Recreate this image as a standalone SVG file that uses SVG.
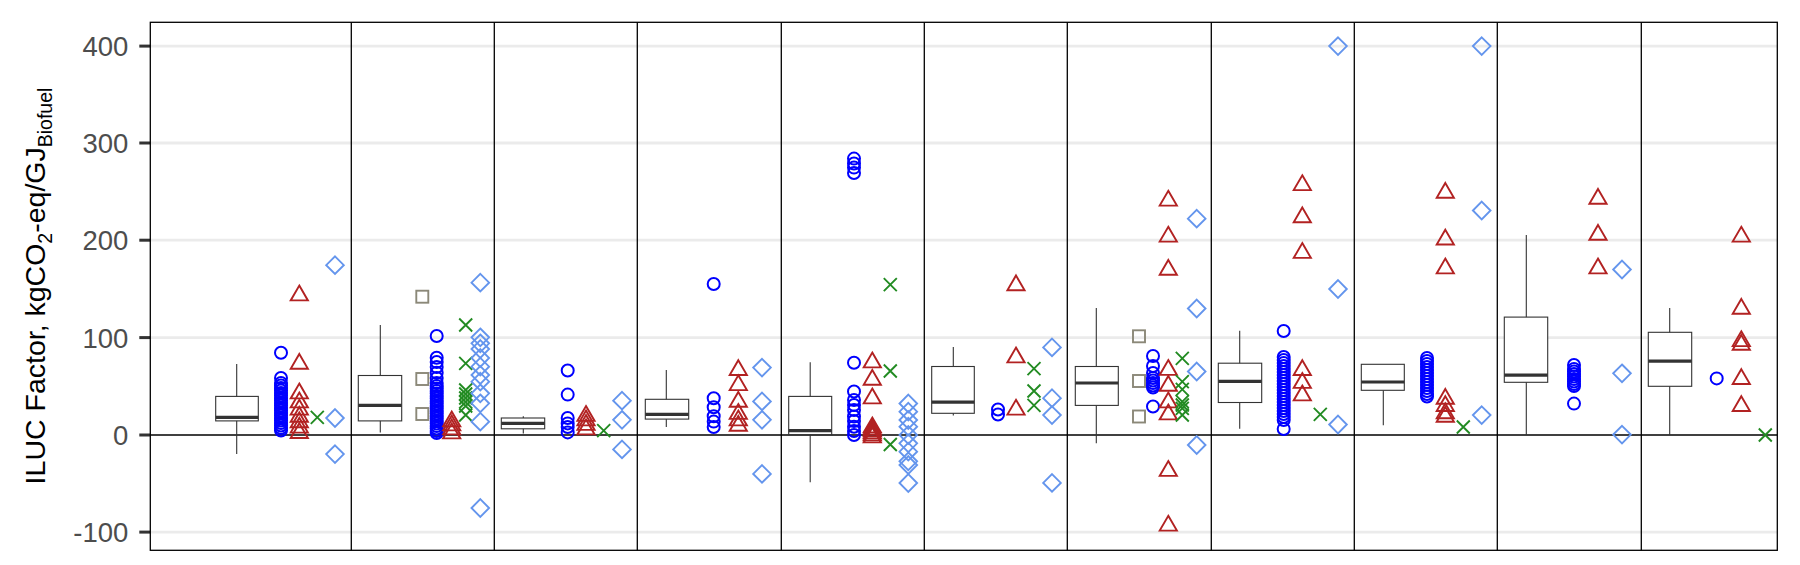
<svg xmlns="http://www.w3.org/2000/svg" xmlns:xlink="http://www.w3.org/1999/xlink" width="1800" height="565" viewBox="0 0 1800 565">
<style>
.grid{stroke:#EBEBEB;stroke-width:2.8}
.frame{fill:none;stroke:#000;stroke-width:1.3}
.div{stroke:#000;stroke-width:1.3}
.zero{stroke:#000;stroke-width:1.3}
.tick{stroke:#333333;stroke-width:3}
.tl{font-family:"Liberation Sans",Arial,sans-serif;font-size:27.5px;fill:#4D4D4D;text-anchor:end}
.title{font-family:"Liberation Sans",Arial,sans-serif;font-size:28.5px;fill:#000;text-anchor:middle}
.sub{font-size:19.5px}
.box{fill:#fff;stroke:#333333;stroke-width:1.1}
.med{stroke:#333333;stroke-width:3.2}
.wh{stroke:#333333;stroke-width:1.1}
.mc{fill:none;stroke:#0000FF;stroke-width:2}
.mt{fill:none;stroke:#B22222;stroke-width:1.9;stroke-linejoin:miter}
.mx{fill:none;stroke:#228B22;stroke-width:1.9}
.md{fill:none;stroke:#6495ED;stroke-width:1.9}
.ms{fill:none;stroke:#8B8878;stroke-width:1.9}
</style>
<defs>
<circle id="c" class="mc" cx="0" cy="0" r="6"/>
<path id="t" class="mt" d="M0,-7.4 L8.6,7.4 L-8.6,7.4 Z"/>
<path id="x" class="mx" d="M-6.5,-6.5 L6.5,6.5 M-6.5,6.5 L6.5,-6.5"/>
<path id="d" class="md" d="M0,-8.8 L8.8,0 L0,8.8 L-8.8,0 Z"/>
<rect id="s" class="ms" x="-6" y="-6" width="12" height="12"/>
</defs>
<rect x="0" y="0" width="1800" height="565" fill="#fff"/>
<g id="grid">
<line class="grid" x1="150.3" x2="1777.3" y1="46.1" y2="46.1"/>
<line class="grid" x1="150.3" x2="1777.3" y1="143" y2="143"/>
<line class="grid" x1="150.3" x2="1777.3" y1="240.2" y2="240.2"/>
<line class="grid" x1="150.3" x2="1777.3" y1="337.6" y2="337.6"/>
<line class="grid" x1="150.3" x2="1777.3" y1="532.1" y2="532.1"/>
</g>
<g id="axis">
<line class="tick" x1="139.3" x2="150.3" y1="46.1" y2="46.1"/>
<line class="tick" x1="139.3" x2="150.3" y1="143" y2="143"/>
<line class="tick" x1="139.3" x2="150.3" y1="240.2" y2="240.2"/>
<line class="tick" x1="139.3" x2="150.3" y1="337.6" y2="337.6"/>
<line class="tick" x1="139.3" x2="150.3" y1="435" y2="435"/>
<line class="tick" x1="139.3" x2="150.3" y1="532.1" y2="532.1"/>
<text class="tl" x="128.3" y="56.1">400</text>
<text class="tl" x="128.3" y="153">300</text>
<text class="tl" x="128.3" y="250.2">200</text>
<text class="tl" x="128.3" y="347.6">100</text>
<text class="tl" x="128.3" y="445">0</text>
<text class="tl" x="128.3" y="542.1">-100</text>
<text class="title" transform="translate(45,286) rotate(-90)">ILUC Factor, kgCO<tspan class="sub" dy="6.5">2</tspan><tspan dy="-6.5">-eq/GJ</tspan><tspan class="sub" dy="6.5">Biofuel</tspan></text>
</g>
<g id="connectors">
<line class="zero" x1="150.3" x2="1777.3" y1="435" y2="435"/>
<line class="div" x1="351.3" x2="351.3" y1="22.3" y2="550.3"/>
<line class="div" x1="494.3" x2="494.3" y1="22.3" y2="550.3"/>
<line class="div" x1="637.3" x2="637.3" y1="22.3" y2="550.3"/>
<line class="div" x1="781.3" x2="781.3" y1="22.3" y2="550.3"/>
<line class="div" x1="924.3" x2="924.3" y1="22.3" y2="550.3"/>
<line class="div" x1="1067.3" x2="1067.3" y1="22.3" y2="550.3"/>
<line class="div" x1="1211.3" x2="1211.3" y1="22.3" y2="550.3"/>
<line class="div" x1="1354.3" x2="1354.3" y1="22.3" y2="550.3"/>
<line class="div" x1="1497.3" x2="1497.3" y1="22.3" y2="550.3"/>
<line class="div" x1="1641.3" x2="1641.3" y1="22.3" y2="550.3"/>
<rect class="frame" x="150.3" y="22.3" width="1627" height="528"/>
</g>
<g id="panel1">
<line class="wh" x1="236.7" x2="236.7" y1="364" y2="454.1"/>
<rect class="box" x="215.7" y="396.4" width="42.6" height="24.5"/>
<line class="med" x1="215.7" x2="258.3" y1="417.3" y2="417.3"/>
<use href="#c" x="281" y="352.7"/><use href="#c" x="281" y="378"/><use href="#c" x="281" y="383"/><use href="#c" x="281" y="385.5"/><use href="#c" x="281" y="388"/><use href="#c" x="281" y="390.5"/><use href="#c" x="281" y="393"/><use href="#c" x="281" y="395.5"/><use href="#c" x="281" y="398"/><use href="#c" x="281" y="400.5"/><use href="#c" x="281" y="403"/><use href="#c" x="281" y="405.5"/><use href="#c" x="281" y="408"/><use href="#c" x="281" y="410.5"/><use href="#c" x="281" y="413"/><use href="#c" x="281" y="415.5"/><use href="#c" x="281" y="418"/><use href="#c" x="281" y="420.5"/><use href="#c" x="281" y="423"/><use href="#c" x="281" y="425.5"/><use href="#c" x="281" y="428"/><use href="#c" x="281" y="430.5"/>
<use href="#t" x="299.3" y="293"/><use href="#t" x="299.3" y="361.4"/><use href="#t" x="299.3" y="391"/><use href="#t" x="299.3" y="400"/><use href="#t" x="299.3" y="407.2"/><use href="#t" x="299.3" y="414.4"/><use href="#t" x="299.3" y="419.8"/><use href="#t" x="299.3" y="425.2"/><use href="#t" x="299.3" y="430.6"/>
<use href="#x" x="317.3" y="417.3"/>
<use href="#d" x="335" y="265.2"/><use href="#d" x="335" y="418"/><use href="#d" x="335" y="454.1"/>
</g>
<g id="panel2">
<line class="wh" x1="380.3" x2="380.3" y1="325" y2="432.4"/>
<rect class="box" x="358.3" y="375.5" width="43.4" height="45.4"/>
<line class="med" x1="358.3" x2="401.7" y1="405.4" y2="405.4"/>
<use href="#s" x="422.3" y="296.7"/><use href="#s" x="422.3" y="379"/><use href="#s" x="422.3" y="414"/>
<use href="#c" x="436.7" y="336"/><use href="#c" x="436.7" y="357.7"/><use href="#c" x="436.7" y="362"/><use href="#c" x="436.7" y="367"/><use href="#c" x="436.7" y="372.7"/><use href="#c" x="436.7" y="378"/><use href="#c" x="436.7" y="383"/><use href="#c" x="436.7" y="386"/><use href="#c" x="436.7" y="388.5"/><use href="#c" x="436.7" y="391"/><use href="#c" x="436.7" y="393.5"/><use href="#c" x="436.7" y="396"/><use href="#c" x="436.7" y="398.5"/><use href="#c" x="436.7" y="401"/><use href="#c" x="436.7" y="403.5"/><use href="#c" x="436.7" y="406"/><use href="#c" x="436.7" y="408.5"/><use href="#c" x="436.7" y="411"/><use href="#c" x="436.7" y="413.5"/><use href="#c" x="436.7" y="416"/><use href="#c" x="436.7" y="418.5"/><use href="#c" x="436.7" y="421"/><use href="#c" x="436.7" y="423.5"/><use href="#c" x="436.7" y="426"/><use href="#c" x="436.7" y="428.5"/><use href="#c" x="436.7" y="431"/><use href="#c" x="436.7" y="433"/>
<use href="#t" x="451.7" y="419"/><use href="#t" x="451.7" y="423"/><use href="#t" x="451.7" y="427"/><use href="#t" x="451.7" y="431"/>
<use href="#x" x="465.7" y="325"/><use href="#x" x="465.7" y="363.3"/><use href="#x" x="465.7" y="390"/><use href="#x" x="465.7" y="394"/><use href="#x" x="465.7" y="398"/><use href="#x" x="465.7" y="402"/><use href="#x" x="465.7" y="406"/><use href="#x" x="465.7" y="415"/>
<use href="#d" x="480.3" y="282.7"/><use href="#d" x="480.3" y="337.3"/><use href="#d" x="480.3" y="343.3"/><use href="#d" x="480.3" y="349"/><use href="#d" x="480.3" y="358"/><use href="#d" x="480.3" y="366.7"/><use href="#d" x="480.3" y="375"/><use href="#d" x="480.3" y="381.7"/><use href="#d" x="480.3" y="393.3"/><use href="#d" x="480.3" y="403.3"/><use href="#d" x="480.3" y="421.7"/><use href="#d" x="480.3" y="508"/>
</g>
<g id="panel3">
<line class="wh" x1="523.3" x2="523.3" y1="416.2" y2="433.5"/>
<rect class="box" x="501.3" y="418" width="43.4" height="10.8"/>
<line class="med" x1="501.3" x2="544.7" y1="423.4" y2="423.4"/>
<use href="#c" x="567.7" y="370.5"/><use href="#c" x="567.7" y="394.6"/><use href="#c" x="567.7" y="418"/><use href="#c" x="567.7" y="423.4"/><use href="#c" x="567.7" y="427"/><use href="#c" x="567.7" y="432.4"/>
<use href="#t" x="586" y="413.5"/><use href="#t" x="586" y="418"/><use href="#t" x="586" y="422.5"/><use href="#t" x="586" y="427"/>
<use href="#x" x="603.7" y="430.6"/>
<use href="#d" x="622" y="400.7"/><use href="#d" x="622" y="419.8"/><use href="#d" x="622" y="449.4"/>
</g>
<g id="panel4">
<line class="wh" x1="666.3" x2="666.3" y1="370.1" y2="427"/>
<rect class="box" x="645.3" y="399.3" width="43.4" height="19.8"/>
<line class="med" x1="645.3" x2="688.7" y1="414.4" y2="414.4"/>
<use href="#c" x="713.7" y="284"/><use href="#c" x="713.7" y="398.2"/><use href="#c" x="713.7" y="407.2"/><use href="#c" x="713.7" y="416.2"/><use href="#c" x="713.7" y="421.6"/><use href="#c" x="713.7" y="427"/>
<use href="#t" x="738.3" y="367.6"/><use href="#t" x="738.3" y="382.7"/><use href="#t" x="738.3" y="399.3"/><use href="#t" x="738.3" y="411.5"/><use href="#t" x="738.3" y="418"/><use href="#t" x="738.3" y="423.4"/>
<use href="#d" x="762" y="367.6"/><use href="#d" x="762" y="401.4"/><use href="#d" x="762" y="419.8"/><use href="#d" x="762" y="473.9"/>
</g>
<g id="panel5">
<line class="wh" x1="810.2" x2="810.2" y1="362.2" y2="482.2"/>
<rect class="box" x="788.7" y="396.4" width="43" height="38.2"/>
<line class="med" x1="788.7" x2="831.7" y1="430.6" y2="430.6"/>
<use href="#c" x="854" y="158.6"/><use href="#c" x="854" y="163.5"/><use href="#c" x="854" y="167.6"/><use href="#c" x="854" y="173"/><use href="#c" x="854" y="362.8"/><use href="#c" x="854" y="391.5"/><use href="#c" x="854" y="400"/><use href="#c" x="854" y="405"/><use href="#c" x="854" y="410"/><use href="#c" x="854" y="416.5"/><use href="#c" x="854" y="421"/><use href="#c" x="854" y="426.7"/><use href="#c" x="854" y="431"/><use href="#c" x="854" y="435"/>
<use href="#t" x="872.3" y="360"/><use href="#t" x="872.3" y="377.3"/><use href="#t" x="872.3" y="396"/><use href="#t" x="872.3" y="425"/><use href="#t" x="872.3" y="427"/><use href="#t" x="872.3" y="429"/><use href="#t" x="872.3" y="431"/><use href="#t" x="872.3" y="433"/><use href="#t" x="872.3" y="435"/>
<use href="#x" x="890.3" y="284.7"/><use href="#x" x="890.3" y="371"/><use href="#x" x="890.3" y="444.5"/>
<use href="#d" x="908.3" y="403.5"/><use href="#d" x="908.3" y="411.7"/><use href="#d" x="908.3" y="420"/><use href="#d" x="908.3" y="426.7"/><use href="#d" x="908.3" y="435"/><use href="#d" x="908.3" y="443.3"/><use href="#d" x="908.3" y="451.7"/><use href="#d" x="908.3" y="461.3"/><use href="#d" x="908.3" y="465"/><use href="#d" x="908.3" y="483"/>
</g>
<g id="panel6">
<line class="wh" x1="953.3" x2="953.3" y1="347" y2="415.5"/>
<rect class="box" x="931.7" y="366.5" width="42.6" height="46.8"/>
<line class="med" x1="931.7" x2="974.3" y1="402.2" y2="402.2"/>
<use href="#c" x="998" y="409.5"/><use href="#c" x="998" y="414.5"/>
<use href="#t" x="1016" y="282.9"/><use href="#t" x="1016" y="355"/><use href="#t" x="1016" y="407.2"/>
<use href="#x" x="1034" y="368.6"/><use href="#x" x="1034" y="391"/><use href="#x" x="1034" y="405.4"/>
<use href="#d" x="1052" y="347.4"/><use href="#d" x="1052" y="398.2"/><use href="#d" x="1052" y="415.1"/><use href="#d" x="1052" y="482.9"/>
</g>
<g id="panel7">
<line class="wh" x1="1096.3" x2="1096.3" y1="308.1" y2="443.2"/>
<rect class="box" x="1075.3" y="366.5" width="43" height="38.9"/>
<line class="med" x1="1075.3" x2="1118.3" y1="383" y2="383"/>
<use href="#s" x="1139" y="336.3"/><use href="#s" x="1139" y="381"/><use href="#s" x="1139" y="416.5"/>
<use href="#c" x="1153" y="356"/><use href="#c" x="1153" y="366"/><use href="#c" x="1153" y="373"/><use href="#c" x="1153" y="378"/><use href="#c" x="1153" y="380.5"/><use href="#c" x="1153" y="383"/><use href="#c" x="1153" y="385.5"/><use href="#c" x="1153" y="387.5"/><use href="#c" x="1153" y="406.5"/>
<use href="#t" x="1168.3" y="198.2"/><use href="#t" x="1168.3" y="234.2"/><use href="#t" x="1168.3" y="267.4"/><use href="#t" x="1168.3" y="367.5"/><use href="#t" x="1168.3" y="383.3"/><use href="#t" x="1168.3" y="400"/><use href="#t" x="1168.3" y="412"/><use href="#t" x="1168.3" y="468.5"/><use href="#t" x="1168.3" y="523.2"/>
<use href="#x" x="1182.3" y="358.3"/><use href="#x" x="1182.3" y="381.7"/><use href="#x" x="1182.3" y="389.3"/><use href="#x" x="1182.3" y="401.7"/><use href="#x" x="1182.3" y="405"/><use href="#x" x="1182.3" y="408.3"/><use href="#x" x="1182.3" y="415"/>
<use href="#d" x="1196.7" y="218.7"/><use href="#d" x="1196.7" y="308.5"/><use href="#d" x="1196.7" y="371.5"/><use href="#d" x="1196.7" y="445"/>
</g>
<g id="panel8">
<line class="wh" x1="1239.7" x2="1239.7" y1="330.8" y2="428.8"/>
<rect class="box" x="1218.3" y="363.2" width="43.4" height="39.3"/>
<line class="med" x1="1218.3" x2="1261.7" y1="381.3" y2="381.3"/>
<use href="#c" x="1283.7" y="331"/><use href="#c" x="1283.7" y="357"/><use href="#c" x="1283.7" y="360"/><use href="#c" x="1283.7" y="363"/><use href="#c" x="1283.7" y="366"/><use href="#c" x="1283.7" y="369"/><use href="#c" x="1283.7" y="372"/><use href="#c" x="1283.7" y="375"/><use href="#c" x="1283.7" y="378"/><use href="#c" x="1283.7" y="381"/><use href="#c" x="1283.7" y="384"/><use href="#c" x="1283.7" y="387"/><use href="#c" x="1283.7" y="390"/><use href="#c" x="1283.7" y="393"/><use href="#c" x="1283.7" y="396"/><use href="#c" x="1283.7" y="399"/><use href="#c" x="1283.7" y="402"/><use href="#c" x="1283.7" y="405"/><use href="#c" x="1283.7" y="408"/><use href="#c" x="1283.7" y="411"/><use href="#c" x="1283.7" y="414"/><use href="#c" x="1283.7" y="417"/><use href="#c" x="1283.7" y="420"/><use href="#c" x="1283.7" y="429"/>
<use href="#t" x="1302.3" y="182.7"/><use href="#t" x="1302.3" y="214.8"/><use href="#t" x="1302.3" y="250.5"/><use href="#t" x="1302.3" y="367.6"/><use href="#t" x="1302.3" y="380.5"/><use href="#t" x="1302.3" y="393"/>
<use href="#x" x="1320.3" y="414.4"/>
<use href="#d" x="1338" y="46.1"/><use href="#d" x="1338" y="289"/><use href="#d" x="1338" y="424.5"/>
</g>
<g id="panel9">
<line class="wh" x1="1383.3" x2="1383.3" y1="390.3" y2="425.2"/>
<rect class="box" x="1361.3" y="364.3" width="43" height="26"/>
<line class="med" x1="1361.3" x2="1404.3" y1="382" y2="382"/>
<use href="#c" x="1427" y="358"/><use href="#c" x="1427" y="361"/><use href="#c" x="1427" y="364"/><use href="#c" x="1427" y="367"/><use href="#c" x="1427" y="370"/><use href="#c" x="1427" y="373"/><use href="#c" x="1427" y="376"/><use href="#c" x="1427" y="379"/><use href="#c" x="1427" y="382"/><use href="#c" x="1427" y="385"/><use href="#c" x="1427" y="388"/><use href="#c" x="1427" y="391"/><use href="#c" x="1427" y="394"/><use href="#c" x="1427" y="396.5"/>
<use href="#t" x="1445.3" y="190.3"/><use href="#t" x="1445.3" y="237.1"/><use href="#t" x="1445.3" y="266"/><use href="#t" x="1445.3" y="396.4"/><use href="#t" x="1445.3" y="403.6"/><use href="#t" x="1445.3" y="410.8"/><use href="#t" x="1445.3" y="414.4"/>
<use href="#x" x="1463.3" y="427"/>
<use href="#d" x="1481.7" y="46.1"/><use href="#d" x="1481.7" y="210.5"/><use href="#d" x="1481.7" y="415.1"/>
</g>
<g id="panel10">
<line class="wh" x1="1526.3" x2="1526.3" y1="235" y2="435"/>
<rect class="box" x="1504.3" y="317.1" width="43.4" height="65.2"/>
<line class="med" x1="1504.3" x2="1547.7" y1="375.1" y2="375.1"/>
<use href="#c" x="1574" y="365"/><use href="#c" x="1574" y="369"/><use href="#c" x="1574" y="371.5"/><use href="#c" x="1574" y="374"/><use href="#c" x="1574" y="376.5"/><use href="#c" x="1574" y="379"/><use href="#c" x="1574" y="381.5"/><use href="#c" x="1574" y="384"/><use href="#c" x="1574" y="386"/><use href="#c" x="1574" y="403.6"/>
<use href="#t" x="1598" y="196.4"/><use href="#t" x="1598" y="232.4"/><use href="#t" x="1598" y="266"/>
<use href="#d" x="1622" y="269.5"/><use href="#d" x="1622" y="373.3"/><use href="#d" x="1622" y="434.6"/>
</g>
<g id="panel11">
<line class="wh" x1="1669.7" x2="1669.7" y1="308.1" y2="435"/>
<rect class="box" x="1648.3" y="332.3" width="43.4" height="54"/>
<line class="med" x1="1648.3" x2="1691.7" y1="361.1" y2="361.1"/>
<use href="#c" x="1716.7" y="378.4"/>
<use href="#t" x="1741.3" y="234.2"/><use href="#t" x="1741.3" y="306.3"/><use href="#t" x="1741.3" y="338.7"/><use href="#t" x="1741.3" y="342.3"/><use href="#t" x="1741.3" y="376.6"/><use href="#t" x="1741.3" y="403.6"/>
<use href="#x" x="1765.3" y="435"/>
</g>
</svg>
